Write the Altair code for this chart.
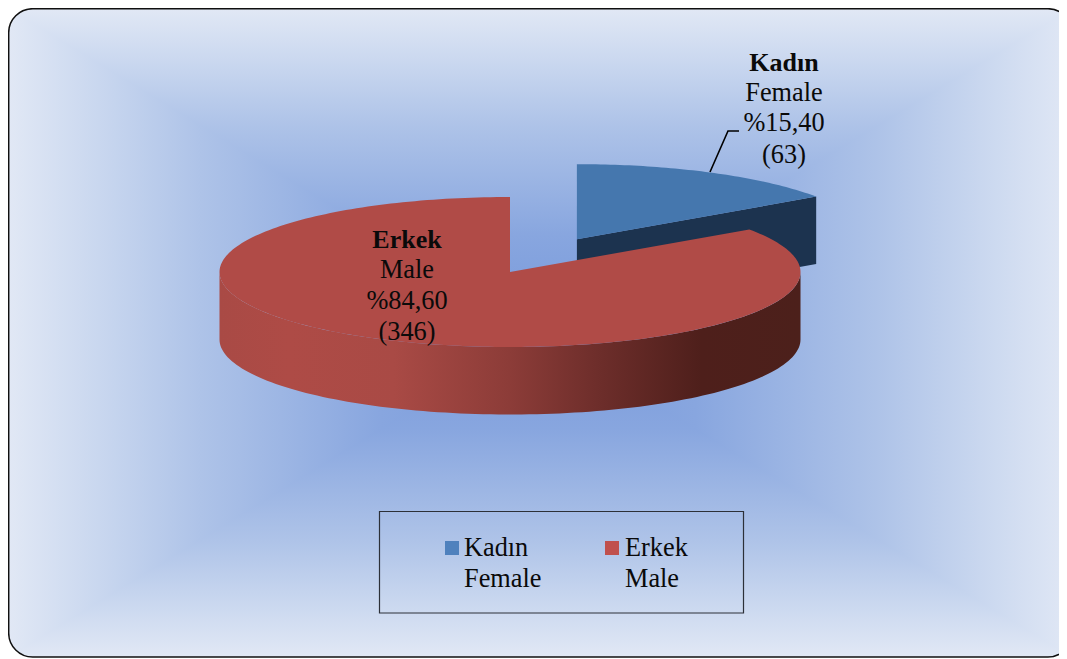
import numpy as np
import pandas as pd
import altair as alt

# ---- data ----
categories = ["Kadın", "Erkek"]
categories_en = ["Female", "Male"]
counts = [63, 346]
percent_labels = ["%15,40", "%84,60"]
count_labels = ["(63)", "(346)"]

# ---- scene scale: picture pixels ----
W, H = 1051, 650
xs = alt.Scale(domain=[8, 8 + W], range=[0, W])
ys = alt.Scale(domain=[8, 8 + H], range=[0, H])
X = lambda f="x": alt.X(f + ":Q", scale=xs, axis=None)
Y = lambda f="y": alt.Y(f + ":Q", scale=ys, axis=None)

FONT = "Liberation Serif"
L, T, R, B = 8.7, 8.7, 1072.0, 657.0
CX, CY = 537.0, 332.0
stops = [
    ("#e1e8f5", 0.0), ("#c9d7ef", 0.17), ("#aec3e8", 0.36), ("#88a6df", 0.70), ("#7799db", 1.0)
]


def grad(x1, y1, x2, y2):
    return alt.LinearGradient(
        gradient="linear", x1=x1, y1=y1, x2=x2, y2=y2,
        stops=[alt.GradientStop(color=c, offset=o) for c, o in stops],
    )


layers = []
# rectangular path-gradient backdrop: four triangles (side ones run a little under the others)
E = 3.0
top = pd.DataFrame({"x": [L, CX, R], "y": [T, T, T], "y2": [T, CY, T]})
bot = pd.DataFrame({"x": [L, CX, R], "y": [B, B, B], "y2": [B, CY, B]})
lef = pd.DataFrame({"y": [T - E, CY, B + E], "x": [L, L, L], "x2": [L, CX + E, L]})
rig = pd.DataFrame({"y": [T - E, CY, B + E], "x": [R, R, R], "x2": [R, CX - E, R]})
layers.append(alt.Chart(lef).mark_area(orient="horizontal", color=grad(0, 0, 1, 0)).encode(x=X(), x2="x2:Q", y=Y()))
layers.append(alt.Chart(rig).mark_area(orient="horizontal", color=grad(1, 0, 0, 0)).encode(x=X(), x2="x2:Q", y=Y()))
layers.append(alt.Chart(top).mark_area(color=grad(0, 0, 0, 1)).encode(x=X(), y=Y(), y2="y2:Q"))
layers.append(alt.Chart(bot).mark_area(color=grad(0, 1, 0, 0)).encode(x=X(), y=Y(), y2="y2:Q"))

# ---- pie geometry derived from the counts ----
total = sum(counts)
ang_f = 2 * np.pi * counts[0] / total
A, Bb = 290.5, 75.0
PX, PY = 510.0, 272.0
DEPTH = 67.5
EXPLODE = 0.495
mid = ang_f / 2
BX = PX + EXPLODE * A * np.sin(mid)
BY = PY - EXPLODE * Bb * np.cos(mid)


def rim(t, cx, cy, dy=0.0):
    return cx + A * np.sin(t), cy - Bb * np.cos(t) + dy


def poly(xv, yv):
    return pd.DataFrame({"x": xv, "y": yv, "i": np.arange(len(xv))})


def shape(df, fill):
    return alt.Chart(df).mark_line(fill=fill, strokeWidth=0, strokeOpacity=0).encode(
        x=X(), y=Y(), order="i:Q"
    )


# blue slice: cut face, then top
ex, ey = rim(ang_f, BX, BY)
layers.append(shape(poly([BX, ex, ex, BX], [BY, ey, ey + DEPTH, BY + DEPTH]), "#1c334f"))
t = np.linspace(0, ang_f, 60)
rx, ry = rim(t, BX, BY)
layers.append(shape(poly(np.r_[BX, rx], np.r_[BY, ry]), "#4577ae"))

# red slice: rim wall, then top
t = np.linspace(np.pi / 2, 3 * np.pi / 2, 120)
rx, ry = rim(t, PX, PY)
side_grad = alt.LinearGradient(
    gradient="linear", x1=0, y1=0, x2=1, y2=0,
    stops=[
        alt.GradientStop(color="#a94a45", offset=0.0),
        alt.GradientStop(color="#ae4b46", offset=0.12),
        alt.GradientStop(color="#a94a45", offset=0.30),
        alt.GradientStop(color="#8c3c38", offset=0.50),
        alt.GradientStop(color="#6c2d2a", offset=0.66),
        alt.GradientStop(color="#4e1f1b", offset=0.83),
        alt.GradientStop(color="#4c201b", offset=1.0),
    ],
)
layers.append(shape(poly(np.r_[rx, rx[::-1]], np.r_[ry, ry[::-1] + DEPTH]), side_grad))
t = np.linspace(ang_f, 2 * np.pi, 240)
rx, ry = rim(t, PX, PY)
layers.append(shape(poly(np.r_[PX, rx], np.r_[PY, ry]), "#b04b47"))

# leader line
leader = pd.DataFrame({"x": [710, 728, 739], "y": [172, 131, 131], "i": [0, 1, 2]})
layers.append(alt.Chart(leader).mark_line(color="#000000", strokeWidth=1.6).encode(x=X(), y=Y(), order="i:Q"))


def text_layer(rows, weight="normal", align="center", size=26.3):
    return alt.Chart(pd.DataFrame(rows)).mark_text(
        font=FONT, fontSize=size, fontWeight=weight, align=align, baseline="alphabetic", color="#0a0a0a"
    ).encode(x=X(), y=Y(), text="t:N")


layers.append(text_layer([{"x": 784, "y": 71, "t": categories[0]}, {"x": 407, "y": 248, "t": categories[1]}], weight="bold", size=26))
layers.append(text_layer([
    {"x": 784, "y": 101, "t": categories_en[0]},
    {"x": 784, "y": 131, "t": percent_labels[0]},
    {"x": 784, "y": 163, "t": count_labels[0]},
    {"x": 407, "y": 278, "t": categories_en[1]},
    {"x": 407, "y": 309, "t": percent_labels[1]},
    {"x": 407, "y": 340, "t": count_labels[1]},
]))

# legend
box = pd.DataFrame({"x": [379.5], "x2": [743.5], "y": [511.5], "y2": [613.0]})
layers.append(alt.Chart(box).mark_rect(fillOpacity=0, stroke="#2c3038", strokeWidth=1.2).encode(x=X(), x2="x2:Q", y=Y(), y2="y2:Q"))
swatch = pd.DataFrame({
    "x": [445, 605], "x2": [459, 619], "y": [541, 541], "y2": [555, 555],
    "c": categories,
})
layers.append(alt.Chart(swatch).mark_rect().encode(
    x=X(), x2="x2:Q", y=Y(), y2="y2:Q",
    color=alt.Color("c:N", scale=alt.Scale(domain=categories, range=["#4f81bd", "#c0504d"]), legend=None),
))
layers.append(text_layer([
    {"x": 464, "y": 556, "t": categories[0]},
    {"x": 464, "y": 587, "t": categories_en[0]},
    {"x": 625, "y": 556, "t": categories[1]},
    {"x": 625, "y": 587, "t": categories_en[1]},
], align="left"))

# rounded outer frame: white outside corners, dark hairline
r = 24.0
m = 12.0
outer = pd.DataFrame({"x": [L - m], "x2": [R + m], "y": [T - m], "y2": [B + m]})
layers.append(alt.Chart(outer).mark_rect(fillOpacity=0, stroke="#ffffff", strokeWidth=2 * m, cornerRadius=r + m).encode(
    x=X(), x2="x2:Q", y=Y(), y2="y2:Q"))
frame = pd.DataFrame({"x": [L], "x2": [R], "y": [T], "y2": [B]})
layers.append(alt.Chart(frame).mark_rect(fillOpacity=0, stroke="#101010", strokeWidth=1.5, cornerRadius=r).encode(
    x=X(), x2="x2:Q", y=Y(), y2="y2:Q"))

chart = (
    alt.layer(*layers)
    .properties(width=W, height=H, padding=0, background="white",
                autosize=alt.AutoSizeParams(type="none"))
    .configure_view(stroke=None)
    .resolve_scale(color="independent")
)
chart.save("out.html", embed_options={"renderer": "svg", "actions": False})
